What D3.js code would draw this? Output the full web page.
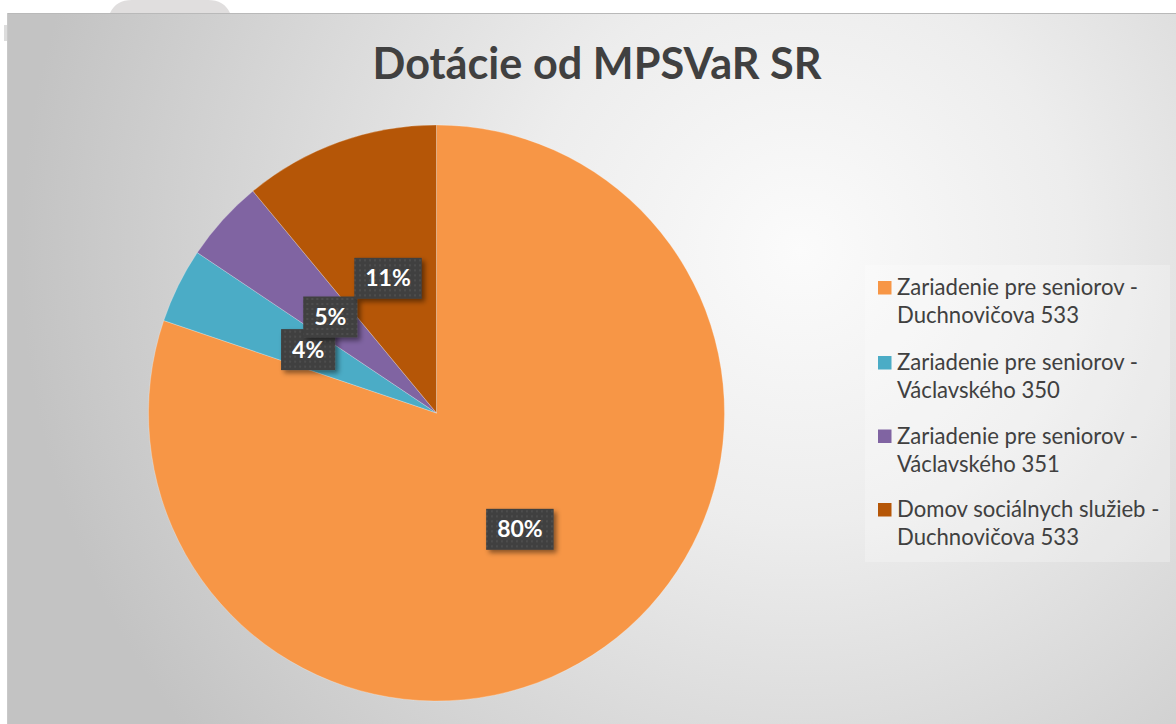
<!DOCTYPE html>
<html><head><meta charset="utf-8">
<script src="https://cdn.jsdelivr.net/npm/d3@7/dist/d3.min.js"></script>
<style>html,body{margin:0;padding:0;background:#fff;overflow:hidden}</style>
</head><body>
<svg id="c" width="1176" height="724"></svg>
<script>
const title = "Dotácie od MPSVaR SR";
const categories = [
  ["Zariadenie pre seniorov -", "Duchnovičova 533"],
  ["Zariadenie pre seniorov -", "Václavského 350"],
  ["Zariadenie pre seniorov -", "Václavského 351"],
  ["Domov sociálnych služieb -", "Duchnovičova 533"]
];
const values = [80.2, 4.2, 4.6, 11.0];
const labels = ["80%", "4%", "5%", "11%"];
const colors = ["#F79646", "#4BACC6", "#8064A2", "#B55607"];

const svg = d3.select("#c");
const defs = svg.append("defs");
const rg = defs.append("radialGradient").attr("id","bg")
  .attr("gradientUnits","userSpaceOnUse").attr("cx",800).attr("cy",250).attr("r",780);
rg.append("stop").attr("offset","0").attr("stop-color","#fbfbfb");
rg.append("stop").attr("offset","0.35").attr("stop-color","#ededed");
rg.append("stop").attr("offset","1").attr("stop-color","#c3c3c3");

const pat = defs.append("pattern").attr("id","dots").attr("patternUnits","userSpaceOnUse")
  .attr("width",5).attr("height",5);
pat.append("rect").attr("width",5).attr("height",5).attr("fill","#404040");
pat.append("rect").attr("x",1).attr("y",1).attr("width",2).attr("height",2).attr("fill","#4d4d4d");

const sh = defs.append("filter").attr("id","shadow").attr("x","-30%").attr("y","-30%").attr("width","170%").attr("height","170%");
sh.append("feDropShadow").attr("dx",3).attr("dy",3).attr("stdDeviation",2.5).attr("flood-color","#000").attr("flood-opacity",0.45);

// top-left decorative tab
svg.append("path").attr("d","M110,13 Q116,0 132,0 L208,0 Q224,0 230,13 Z").attr("fill","#e0dede");
svg.append("rect").attr("x",4).attr("y",25).attr("width",4).attr("height",16).attr("fill","#dddddd");

// chart area
svg.append("rect").attr("x",7).attr("y",13).attr("width",1169).attr("height",711).attr("fill","url(#bg)");
svg.append("line").attr("x1",7).attr("x2",1176).attr("y1",13.5).attr("y2",13.5).attr("stroke","#b9b9b9");
svg.append("line").attr("x1",7.5).attr("x2",7.5).attr("y1",13).attr("y2",724).attr("stroke","#c9c9c9");

// title
const t = svg.append("text").attr("x",597).attr("y",79).attr("text-anchor","middle")
  .attr("font-family","Lato, 'Open Sans', sans-serif").attr("font-weight","bold")
  .attr("fill","#404040").attr("font-size",40).text(title);
const tw = t.node().getComputedTextLength();
t.attr("font-size", 40*449/tw);

// pie
const cx = 436.5, cy = 413, R = 288;
const pie = d3.pie().sort(null).value(d=>d);
const arcs = pie(values);
const arc = d3.arc().innerRadius(0).outerRadius(R);
const lblArc = d3.arc().innerRadius(R*0.497).outerRadius(R*0.497);
const g = svg.append("g").attr("transform",`translate(${cx},${cy})`);
g.selectAll("path.s").data(arcs).join("path").attr("class","s")
  .attr("d",arc).attr("fill",(d,i)=>colors[i])
  .attr("stroke","rgba(255,255,255,0.25)").attr("stroke-width",1);

// data labels
const lg = g.selectAll("g.l").data(arcs).join("g").attr("class","l")
  .attr("transform",d=>`translate(${lblArc.centroid(d)})`);
lg.each(function(d,i){
  const s = d3.select(this);
  const r = s.append("rect").attr("fill","url(#dots)").attr("filter","url(#shadow)");
  const tx = s.append("text").attr("text-anchor","middle").attr("y",8)
    .attr("font-family","Lato, 'Open Sans', sans-serif").attr("font-weight","bold")
    .attr("font-size",23).attr("fill","#ffffff").text(labels[i]);
  const w = tx.node().getComputedTextLength() + 22;
  r.attr("x",-w/2).attr("y",-20.5).attr("width",w).attr("height",41);
});

// legend
svg.append("rect").attr("x",865).attr("y",265).attr("width",305).attr("height",297)
  .attr("fill","#ffffff").attr("fill-opacity",0.25);
const legY = [295, 370, 443.5, 517];
const leg = svg.append("g");
categories.forEach((c,i)=>{
  leg.append("rect").attr("x",878).attr("y",legY[i]-14).attr("width",13.5).attr("height",13.5).attr("fill",colors[i]);
  const tt = leg.append("text").attr("x",897).attr("y",legY[i])
    .attr("font-family","Lato, 'Open Sans', sans-serif").attr("font-size",20).attr("fill","#404040");
  tt.append("tspan").attr("x",897).attr("dy",0).text(c[0]);
  tt.append("tspan").attr("x",897).attr("dy",28).text(c[1]);
});
const probe = leg.select("text tspan").node();
const pw = probe.getComputedTextLength();
leg.selectAll("text").attr("font-size", 20*241/pw);
</script>
</body></html>
